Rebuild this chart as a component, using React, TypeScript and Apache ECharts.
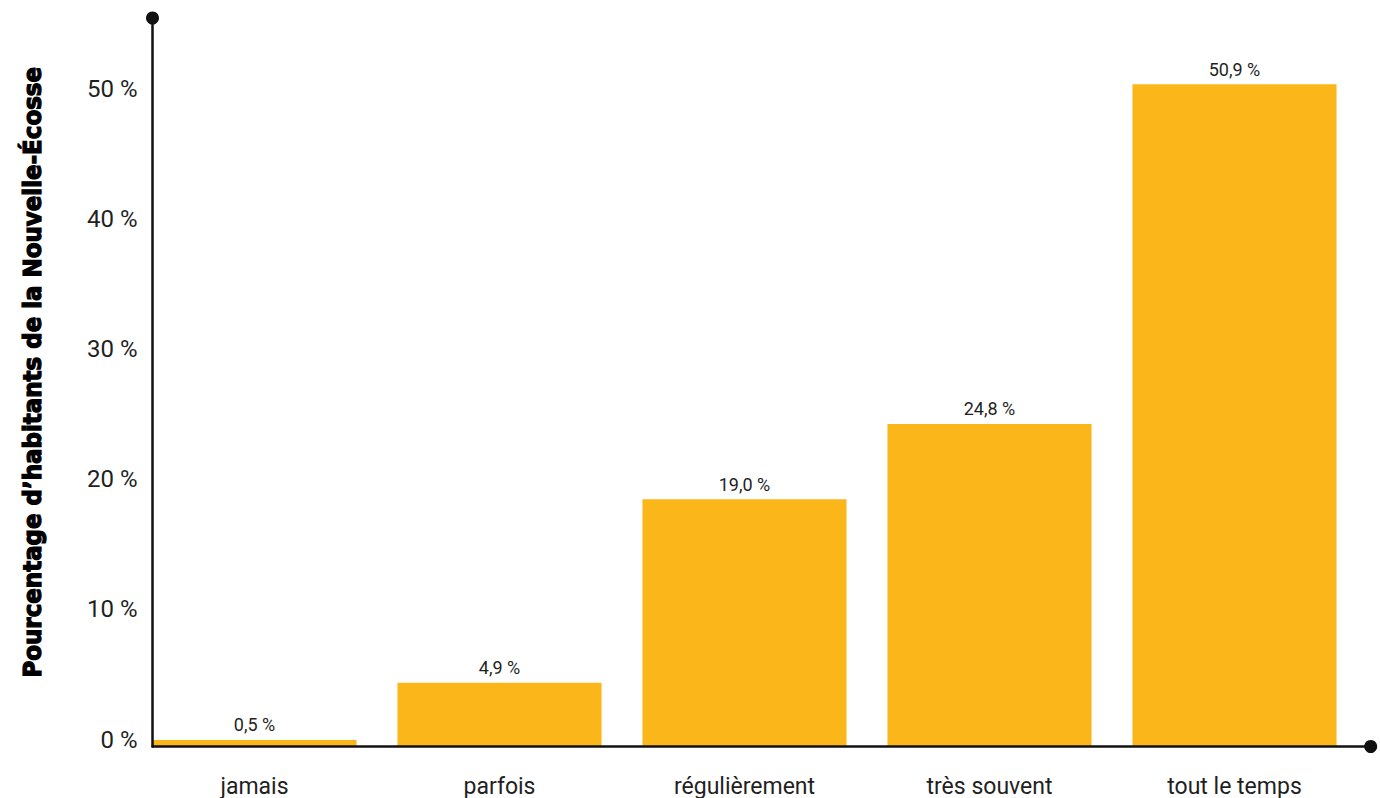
import React, { useEffect, useRef } from "react";
import * as echarts from "echarts";

const categories = ["jamais", "parfois", "régulièrement", "très souvent", "tout le temps"];
const values = [0.5, 4.9, 19.0, 24.8, 50.9];
const yTicks = [0, 10, 20, 30, 40, 50];
const yTitle = "Pourcentage d’habitants de la Nouvelle-Écosse";

const Y_MAX = 56;
const BAR_COLOR = "#FBB619";
const TEXT = "#1f1f1f";

export default function App() {
  const ref = useRef<HTMLDivElement>(null);
  useEffect(() => {
    if (!ref.current) return;
    const chart = echarts.init(ref.current, undefined, { renderer: "svg" });
    const top = 18;
    const bottom = 51.5;
    chart.setOption({
      animation: false,
      textStyle: { fontFamily: "Roboto" },
      grid: [
        { left: 132, top, width: 1225, bottom },
        { left: 152.5, top, right: 9.3, bottom },
      ],
      xAxis: [
        {
          type: "category",
          gridIndex: 0,
          data: categories,
          axisLine: { show: false },
          axisTick: { show: false },
          axisLabel: { fontSize: 23, color: TEXT, margin: 28, fontFamily: "Roboto" },
        },
        {
          type: "value",
          gridIndex: 1,
          min: 0,
          max: 1,
          z: 10,
          axisLine: {
            show: true,
            symbol: ["none", "circle"],
            symbolSize: [13, 13],
            lineStyle: { color: "#111", width: 2.5 },
          },
          axisTick: { show: false },
          axisLabel: { show: false },
          splitLine: { show: false },
        },
      ],
      yAxis: [
        {
          type: "value",
          gridIndex: 0,
          min: 0,
          max: Y_MAX,
          show: false,
          splitLine: { show: false },
        },
        {
          type: "value",
          gridIndex: 1,
          min: 0,
          max: Y_MAX,
          interval: 10,
          z: 10,
          name: yTitle,
          nameLocation: "middle",
          nameGap: 108,
          nameTextStyle: {
            fontFamily: "'Liberation Sans Narrow', 'DejaVu Sans Condensed', sans-serif",
            fontWeight: "bold",
            fontSize: 25.5,
            color: "#000",
            textBorderColor: "#000",
            textBorderWidth: 1.2,
            padding: [0, 0, 0, 20],
          },
          axisLine: {
            show: true,
            symbol: ["none", "circle"],
            symbolSize: [13, 13],
            lineStyle: { color: "#111", width: 2.5 },
          },
          axisTick: { show: false },
          splitLine: { show: false },
          axisLabel: {
            fontSize: 24,
            color: TEXT,
            margin: 15,
            showMaxLabel: false,
            verticalAlign: "bottom",
            lineHeight: 14,
            fontFamily: "Roboto",
            formatter: (v: number) => (yTicks.includes(v) ? `${v} %` : ""),
          },
        },
      ],
      series: [
        {
          type: "bar",
          xAxisIndex: 0,
          yAxisIndex: 0,
          data: values,
          barCategoryGap: "16.7%",
          itemStyle: { color: BAR_COLOR },
          label: {
            show: true,
            position: "top",
            distance: 6,
            fontSize: 18,
            color: TEXT,
            fontFamily: "Roboto",
            formatter: (p: any) => `${p.value.toFixed(1).replace(".", ",")} %`,
          },
        },
      ],
    });
    return () => chart.dispose();
  }, []);
  return <div ref={ref} style={{ width: 1380, height: 798, position: "absolute", left: 0, top: 0 }} />;
}
